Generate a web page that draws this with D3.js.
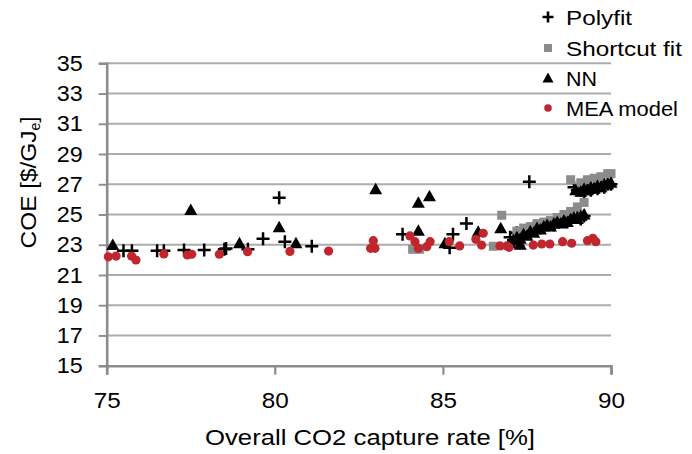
<!DOCTYPE html>
<html><head><meta charset="utf-8">
<script src="https://cdn.jsdelivr.net/npm/d3@7"></script>
<style>body{margin:0;background:#fff;} text{font-family:"Liberation Sans",Arial,sans-serif;fill:#000;}</style>
</head><body>
<svg id="c" width="692" height="454"></svg>
<script>
const xTicks = [75, 80, 85, 90];
const yTicks = [15, 17, 19, 21, 23, 25, 27, 29, 31, 33, 35];
const seriesNames = ["Polyfit", "Shortcut fit", "NN", "MEA model"];

const polyfit = [
  [75.5,22.6],[75.75,22.6],[76.5,22.6],[76.7,22.6],[77.3,22.65],[77.9,22.65],[78.5,22.7],[78.55,22.75],[79.2,22.7],[79.65,23.4],[80.13,26.1],[80.3,23.2],[81.1,22.9],
  [83.8,23.7],[85.2,22.8],[85.3,23.7],[85.7,24.4],[87.57,27.17],
  [87.0,23.5],[87.1,23.3],[87.2,23.8],[87.3,23.6],[87.4,23.9],[87.5,23.8],[87.6,24.0],[87.7,24.1],[87.8,24.2],[87.9,24.1],[88.0,24.3],[88.1,24.4],[88.2,24.4],[88.3,24.3],[88.4,24.5],[88.5,24.6],[88.6,24.6],[88.7,24.5],[88.8,24.7],[88.9,24.8],[89.0,24.8],[89.1,24.7],[89.2,24.9],
  [88.9,26.8],[89.0,26.6],[89.1,26.6],[89.2,26.5],[89.3,26.7],[89.4,26.6],[89.5,26.8],[89.6,26.7],[89.7,26.9],[89.8,26.8],[89.9,27.0],[90.0,27.0]
];
const shortcut = [
  [84.1,22.7],[84.3,22.7],[86.5,22.9],[86.75,24.95],[87.3,23.0],
  [87.2,23.9],[87.4,24.1],[87.6,24.2],[87.8,24.4],[88.0,24.5],[88.2,24.6],[88.4,24.8],[88.6,25.0],[88.8,25.2],[89.0,25.5],[89.2,25.8],
  [88.8,27.3],[89.1,27.1],[89.3,27.3],[89.5,27.4],[89.7,27.5],[89.9,27.7],[90.0,27.7]
];
const nn = [
  [75.18,22.98],[77.5,25.3],[78.95,23.1],[80.13,24.15],[80.63,23.1],[83.0,26.67],[84.27,25.78],[84.6,26.2],[84.27,23.93],[85.06,23.1],[86.05,23.86],[86.72,24.09],
  [87.0,23.1],[87.1,23.3],[87.2,23.5],[87.3,23.0],[87.3,23.4],[87.4,23.7],[87.5,23.6],[87.6,23.9],[87.7,23.8],[87.8,24.1],[87.9,24.0],[88.0,24.2],[88.1,24.3],[88.2,24.2],[88.3,24.4],[88.4,24.5],[88.5,24.4],[88.6,24.6],[88.7,24.5],[88.8,24.7],[88.9,24.8],[89.0,24.7],[89.1,24.9],[89.2,25.0],
  [88.95,26.6],[89.1,26.5],[89.2,26.7],[89.3,26.6],[89.4,26.8],[89.5,26.7],[89.6,26.9],[89.7,26.8],[89.8,27.0],[89.9,27.0],[90.0,27.1]
];
const mea = [
  [75.05,22.2],[75.28,22.25],[75.74,22.25],[75.87,21.99],[76.7,22.39],[77.4,22.32],[77.53,22.37],[78.35,22.37],[79.19,22.54],[80.45,22.56],[81.6,22.58],
  [82.85,22.76],[82.98,22.76],[82.93,23.27],[84.02,23.58],[84.17,23.2],[84.27,22.76],[84.52,22.87],[84.62,23.2],[85.19,23.2],[85.5,22.92],[85.98,23.36],
  [86.15,22.98],[86.2,23.76],[86.7,22.92],[86.9,22.92],[86.97,22.83],[87.69,22.98],[87.94,23.05],[88.18,23.05],[88.56,23.2],[88.83,23.1],[89.3,23.27],[89.46,23.43],[89.55,23.2]
];

const svg = d3.select("#c");
const x = d3.scaleLinear().domain([75, 90]).range([106.7, 611]);
const y = d3.scaleLinear().domain([15, 35]).range([365.7, 63.3]);
const gridCol = "#adadad", axisCol = "#8c8c8c";
const FS = 22;

// gridlines
svg.append("g").selectAll("line").data(yTicks.filter(d => d > 15)).join("line")
  .attr("x1", x(75)).attr("x2", x(90)).attr("y1", d => y(d)).attr("y2", d => y(d))
  .attr("stroke", gridCol).attr("stroke-width", 1.9);

// y axis
const yAxis = svg.append("g").attr("transform", `translate(${x(75)},0)`)
  .call(d3.axisLeft(y).tickValues(yTicks).tickSize(8).tickPadding(16));
yAxis.select(".domain").attr("stroke", axisCol).attr("stroke-width", 2.6);
yAxis.selectAll(".tick line").attr("stroke", axisCol).attr("stroke-width", 1.9);
yAxis.selectAll("text").attr("font-size", FS).attr("font-family", "Liberation Sans, Arial, sans-serif").attr("fill", "#000")
  .attr("textLength", 26).attr("lengthAdjust", "spacingAndGlyphs");

// x axis
const xAxis = svg.append("g").attr("transform", `translate(0,${y(15)})`)
  .call(d3.axisBottom(x).tickValues(xTicks).tickSize(9).tickPadding(18));
xAxis.select(".domain").attr("stroke", axisCol).attr("stroke-width", 2.6);
xAxis.selectAll(".tick line").attr("stroke", axisCol).attr("stroke-width", 2.2);
xAxis.selectAll("text").attr("font-size", FS).attr("font-family", "Liberation Sans, Arial, sans-serif").attr("fill", "#000")
  .attr("textLength", 27).attr("lengthAdjust", "spacingAndGlyphs");

// axis titles
svg.append("text").attr("x", 370).attr("y", 445).attr("text-anchor", "middle").attr("font-size", FS)
  .attr("textLength", 330).attr("lengthAdjust", "spacingAndGlyphs")
  .text("Overall CO2 capture rate [%]");
const yt = svg.append("text").attr("transform", "translate(36,182.5) rotate(-90)").attr("text-anchor", "middle").attr("font-size", FS);
yt.append("tspan").attr("textLength", 118).attr("lengthAdjust", "spacingAndGlyphs").text("COE [$/GJ");
yt.append("tspan").attr("font-size", 14).attr("dy", 4).text("e");
yt.append("tspan").attr("dy", -4).text("]");

// marker drawers
const plusPath = s => `M${-s},0H${s}M0,${-s}V${s}`;
function drawPlus(g, data) {
  g.selectAll("path").data(data).join("path")
    .attr("d", plusPath(6.5)).attr("transform", d => `translate(${x(d[0])},${y(d[1])})`)
    .attr("stroke", "#000").attr("stroke-width", 2.5).attr("fill", "none");
}
function drawSquare(g, data) {
  g.selectAll("rect").data(data).join("rect")
    .attr("x", d => x(d[0]) - 4.5).attr("y", d => y(d[1]) - 4.5).attr("width", 9).attr("height", 9)
    .attr("fill", "#8c8c8c");
}
const triPath = "M0,-6.5L6.5,5L-6.5,5Z";
function drawTri(g, data) {
  g.selectAll("path").data(data).join("path")
    .attr("d", triPath).attr("transform", d => `translate(${x(d[0])},${y(d[1])})`).attr("fill", "#000");
}
function drawCircle(g, data) {
  g.selectAll("circle").data(data).join("circle")
    .attr("cx", d => x(d[0])).attr("cy", d => y(d[1])).attr("r", 4.6).attr("fill", "#c0262d");
}

drawPlus(svg.append("g"), polyfit);
drawSquare(svg.append("g"), shortcut);
drawTri(svg.append("g"), nn);
drawCircle(svg.append("g"), mea);

// legend
const lg = svg.append("g");
const legY = [17, 48, 78, 108];
const legW = [66, 116, 31, 112];
seriesNames.forEach((n, i) => {
  const gg = lg.append("g");
  if (i === 3) {
    gg.append("circle").attr("cx", 548).attr("cy", legY[i]).attr("r", 3.8).attr("fill", "#c0262d");
  } else if (i === 1) {
    gg.append("rect").attr("x", 544).attr("y", legY[i] - 4).attr("width", 8).attr("height", 8).attr("fill", "#8c8c8c");
  } else if (i === 2) {
    gg.append("path").attr("d", "M0,-5.5L5.5,4.5L-5.5,4.5Z").attr("transform", `translate(548,${legY[i]})`).attr("fill", "#000");
  } else {
    gg.append("path").attr("d", plusPath(5.5)).attr("transform", `translate(548,${legY[i]})`).attr("stroke", "#000").attr("stroke-width", 2.6);
  }
  gg.append("text").attr("x", 566).attr("y", legY[i] + 8).attr("font-size", 21)
    .attr("textLength", legW[i]).attr("lengthAdjust", "spacingAndGlyphs").text(n);
});
</script>
</body></html>
